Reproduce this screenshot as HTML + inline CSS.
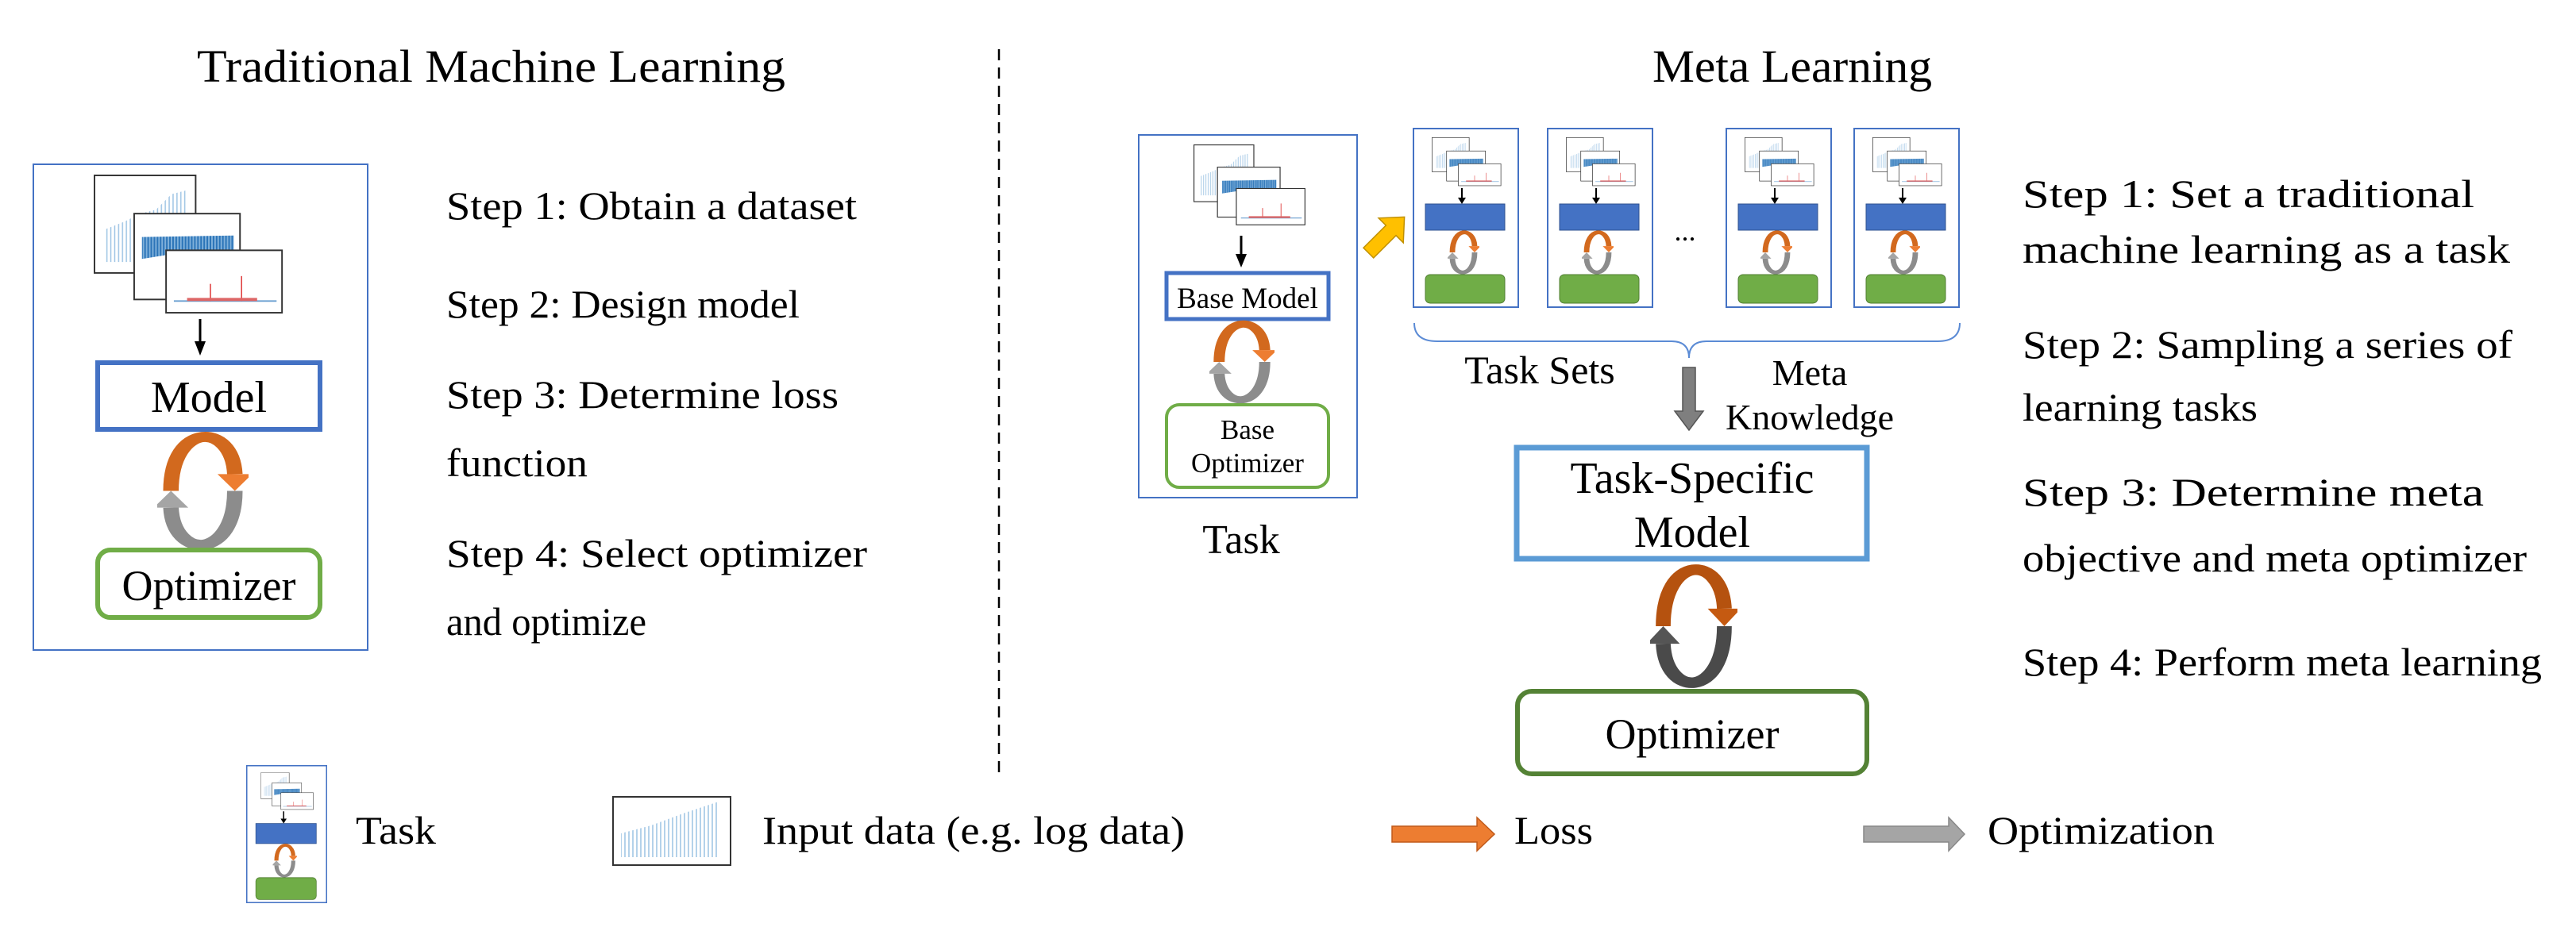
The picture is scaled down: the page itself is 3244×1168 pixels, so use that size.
<!DOCTYPE html>
<html><head><meta charset="utf-8"><style>
html,body{margin:0;padding:0;background:#fff;}
svg{display:block;}
svg text{font-family:"Liberation Serif","Times New Roman",serif !important;fill:#000;}
</style></head><body>
<svg width="3244" height="1168" viewBox="0 0 3244 1168" xmlns="http://www.w3.org/2000/svg" font-family="Liberation Serif, serif">
<defs>
<pattern id="vl" width="5" height="40" patternUnits="userSpaceOnUse"><rect width="5" height="40" fill="#fff"/><line x1="2" y1="0" x2="2" y2="40" stroke="#9cc3e4" stroke-width="1.5"/></pattern>
<pattern id="vd" width="4" height="40" patternUnits="userSpaceOnUse"><rect width="4" height="40" fill="#7fb0da"/><line x1="2" y1="0" x2="2" y2="40" stroke="#2b74b8" stroke-width="2"/></pattern>
<symbol id="data3" viewBox="0 0 250 180" preserveAspectRatio="none">
 <rect x="1" y="1" width="130" height="125" fill="#fff" stroke="#333" stroke-width="2"/>
 <path d="M15,100 L15,70 L40,60 L60,50 L80,45 L100,25 L120,20 L120,112 L15,112 Z" fill="url(#vl)"/>
 <rect x="52" y="50" width="136" height="110" fill="#fff" stroke="#333" stroke-width="2"/>
 <path d="M62,80 L180,78 L180,100 L140,108 L100,102 L62,108 Z" fill="url(#vd)"/>
 <rect x="93" y="97" width="149" height="80" fill="#fff" stroke="#333" stroke-width="2"/>
 <line x1="103" y1="162" x2="235" y2="162" stroke="#6a9fd0" stroke-width="2"/>
 <line x1="150" y1="140" x2="150" y2="162" stroke="#d33" stroke-width="1.5"/>
 <line x1="190" y1="130" x2="190" y2="162" stroke="#d33" stroke-width="1.5"/>
 <rect x="120" y="158" width="90" height="4" fill="#d66"/>
</symbol>
<symbol id="loop" viewBox="0 0 100 200" preserveAspectRatio="none">
 <path d="M15,100 C15,-15 82,-15 85,72" fill="none" stroke="#D2691E" stroke-width="17"/>
 <polygon points="66,72 104,72 85,100" fill="#ED7D31"/>
 <path d="M85,100 C85,215 18,215 15,128" fill="none" stroke="#8c8c8c" stroke-width="17"/>
 <polygon points="-4,128 34,128 15,100" fill="#a5a5a5"/>
</symbol>
<symbol id="loopd" viewBox="0 0 100 200" preserveAspectRatio="none">
 <path d="M15,100 C15,-15 82,-15 85,72" fill="none" stroke="#B5520F" stroke-width="17"/>
 <polygon points="66,72 104,72 85,100" fill="#C55A11"/>
 <path d="M85,100 C85,215 18,215 15,128" fill="none" stroke="#4a4a4a" stroke-width="17"/>
 <polygon points="-4,128 34,128 15,100" fill="#555"/>
</symbol>
<symbol id="mini" viewBox="0 0 134 227" preserveAspectRatio="none">
 <rect x="1" y="1" width="132" height="225" fill="#fff" stroke="#4472C4" stroke-width="2"/>
 <use href="#data3" x="24" y="12" width="90" height="62"/>
 <line x1="62" y1="76" x2="62" y2="88" stroke="#000" stroke-width="2"/>
 <polygon points="57,88 67,88 62,96" fill="#000"/>
 <rect x="16" y="96" width="100" height="33" fill="#4472C4" stroke="#2F528F" stroke-width="1"/>
 <use href="#loop" x="44" y="129" width="40" height="56"/>
 <rect x="16" y="185" width="100" height="36" rx="6" fill="#70AD47" stroke="#507e32" stroke-width="1"/>
</symbol>
</defs>

<!-- Left -->
<text x="248" y="103" font-size="58" textLength="741" lengthAdjust="spacingAndGlyphs">Traditional Machine Learning</text>
<line x1="1258" y1="62" x2="1258" y2="981" stroke="#000" stroke-width="2.5" stroke-dasharray="14,9"/>
<rect x="42" y="207" width="421" height="612" fill="#fff" stroke="#4472C4" stroke-width="2"/>
<use href="#data3" x="118" y="220" width="245" height="177"/>
<line x1="252" y1="402" x2="252" y2="432" stroke="#000" stroke-width="3"/>
<polygon points="245,430 259,430 252,448" fill="#000"/>
<rect x="123" y="457" width="280" height="84" fill="#fff" stroke="#4472C4" stroke-width="6"/>
<text x="263" y="519" font-size="56" text-anchor="middle">Model</text>
<use href="#loop" x="198" y="543" width="115" height="151"/>
<rect x="123" y="693" width="280" height="85" rx="16" fill="#fff" stroke="#70AD47" stroke-width="6"/>
<text x="263" y="756" font-size="54" text-anchor="middle">Optimizer</text>

<g font-size="50">
<text x="562" y="276" textLength="517" lengthAdjust="spacingAndGlyphs">Step 1: Obtain a dataset</text>
<text x="562" y="400" textLength="445" lengthAdjust="spacingAndGlyphs">Step 2: Design model</text>
<text x="562" y="514" textLength="494" lengthAdjust="spacingAndGlyphs">Step 3: Determine loss</text>
<text x="562" y="600" textLength="178" lengthAdjust="spacingAndGlyphs">function</text>
<text x="562" y="714" textLength="530" lengthAdjust="spacingAndGlyphs">Step 4: Select optimizer</text>
<text x="562" y="800" textLength="252" lengthAdjust="spacingAndGlyphs">and optimize</text>
</g>

<!-- Right -->
<text x="2081" y="103" font-size="58" textLength="352" lengthAdjust="spacingAndGlyphs">Meta Learning</text>
<rect x="1434" y="170" width="275" height="457" fill="#fff" stroke="#4472C4" stroke-width="2"/>
<use href="#data3" x="1503" y="182" width="145" height="103"/>
<line x1="1563" y1="297" x2="1563" y2="322" stroke="#000" stroke-width="3"/>
<polygon points="1556,320 1570,320 1563,337" fill="#000"/>
<rect x="1469" y="344" width="204" height="58" fill="#fff" stroke="#4472C4" stroke-width="5"/>
<text x="1571" y="388" font-size="37" text-anchor="middle">Base Model</text>
<use href="#loop" x="1523" y="403" width="82" height="106"/>
<rect x="1469" y="510" width="204" height="104" rx="16" fill="#fff" stroke="#70AD47" stroke-width="4"/>
<text x="1571" y="553" font-size="35" text-anchor="middle">Base</text>
<text x="1571" y="595" font-size="35" text-anchor="middle">Optimizer</text>
<text x="1563" y="697" font-size="52" text-anchor="middle">Task</text>

<g transform="translate(1746,296) rotate(-45)">
<polygon points="-32,-9 8,-9 8,-22 32,0 8,22 8,9 -32,9" fill="#FFC000" stroke="#c09000" stroke-width="1.5"/>
</g>

<use href="#mini" x="1779" y="161" width="134" height="227"/>
<use href="#mini" x="1948" y="161" width="134" height="227"/>
<use href="#mini" x="2173" y="161" width="134" height="227"/>
<use href="#mini" x="2334" y="161" width="134" height="227"/>
<text x="2122" y="303" font-size="36" text-anchor="middle">...</text>

<path d="M1781,407 Q1781,430 1810,430 L2105,430 Q2127,430 2127,451 Q2127,430 2149,430 L2440,430 Q2468,430 2468,407" fill="none" stroke="#5b8bd5" stroke-width="2"/>
<text x="1939" y="483" font-size="50" text-anchor="middle">Task Sets</text>
<text x="2279" y="485" font-size="46" text-anchor="middle">Meta</text>
<text x="2279" y="541" font-size="46" text-anchor="middle">Knowledge</text>
<polygon points="2119,463 2135,463 2135,518 2145,518 2127,542 2109,518 2119,518" fill="#7f7f7f" stroke="#555" stroke-width="1.5"/>

<rect x="1910" y="564" width="441" height="140" fill="#fff" stroke="#5B9BD5" stroke-width="7"/>
<text x="2131" y="621" font-size="56" text-anchor="middle">Task-Specific</text>
<text x="2131" y="689" font-size="56" text-anchor="middle">Model</text>
<use href="#loopd" x="2078" y="710" width="110" height="158"/>
<rect x="1911" y="871" width="440" height="104" rx="18" fill="#fff" stroke="#548235" stroke-width="6"/>
<text x="2131" y="943" font-size="54" text-anchor="middle">Optimizer</text>

<g font-size="50">
<text x="2547" y="261" textLength="569" lengthAdjust="spacingAndGlyphs">Step 1: Set a traditional</text>
<text x="2547" y="331" textLength="614" lengthAdjust="spacingAndGlyphs">machine learning as a task</text>
<text x="2547" y="451" textLength="617" lengthAdjust="spacingAndGlyphs">Step 2: Sampling a series of</text>
<text x="2547" y="530" textLength="296" lengthAdjust="spacingAndGlyphs">learning tasks</text>
<text x="2547" y="637" textLength="581" lengthAdjust="spacingAndGlyphs">Step 3: Determine meta</text>
<text x="2547" y="720" textLength="635" lengthAdjust="spacingAndGlyphs">objective and meta optimizer</text>
<text x="2547" y="851" textLength="654" lengthAdjust="spacingAndGlyphs">Step 4: Perform meta learning</text>
</g>

<!-- Legend -->
<use href="#mini" x="310" y="964" width="102" height="174"/>
<text x="448" y="1063" font-size="50" textLength="101" lengthAdjust="spacingAndGlyphs">Task</text>
<rect x="772" y="1004" width="148" height="86" fill="#fff" stroke="#333" stroke-width="2"/>
<path d="M782,1075 L782,1050 L820,1040 L860,1025 L905,1010 L905,1080 L782,1080 Z" fill="url(#vl)"/>
<text x="960" y="1063" font-size="50" textLength="532" lengthAdjust="spacingAndGlyphs">Input data (e.g. log data)</text>
<polygon points="1753,1041 1860,1041 1860,1030 1882,1051 1860,1072 1860,1061 1753,1061" fill="#ED7D31" stroke="#c05a1a" stroke-width="1.5"/>
<text x="1907" y="1063" font-size="50" textLength="99" lengthAdjust="spacingAndGlyphs">Loss</text>
<polygon points="2347,1041 2454,1041 2454,1030 2474,1051 2454,1072 2454,1061 2347,1061" fill="#A5A5A5" stroke="#888" stroke-width="1.5"/>
<text x="2503" y="1063" font-size="50" textLength="286" lengthAdjust="spacingAndGlyphs">Optimization</text>
</svg>
</body></html>
